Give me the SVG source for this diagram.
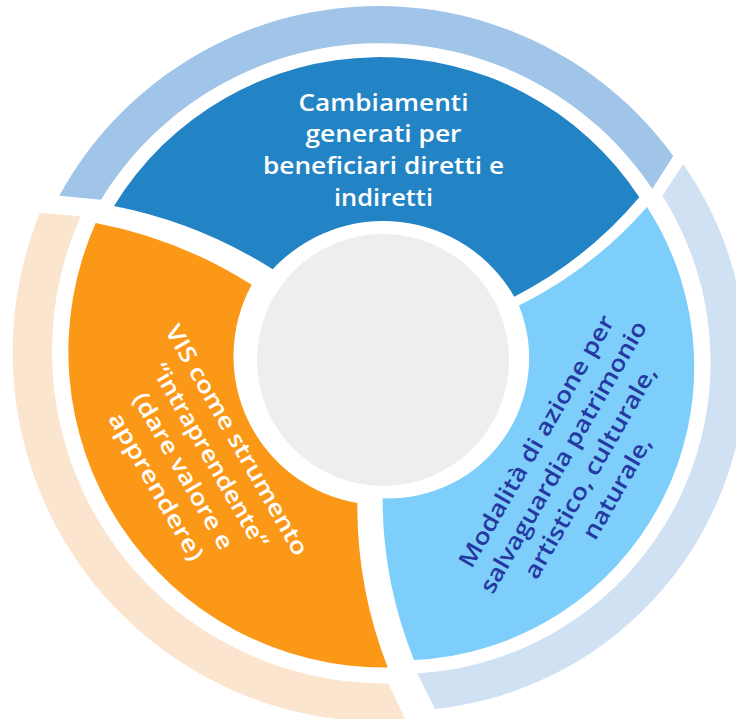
<svg xmlns="http://www.w3.org/2000/svg" width="736" height="719" viewBox="0 0 736 719">
<style>
.lbl{font-family:"Open Sans","Liberation Sans",sans-serif;font-weight:600;font-size:23px;text-anchor:middle}
.w{fill:#FFFFFF}
.d{fill:#2639A0}
</style>
<rect width="736" height="719" fill="#FFFFFF"/>
<g id="ring-top"><path fill="#A0C5E8" d="M59.3,195.7 A364,364 0 0 1 673.3,156 L652.3,189 A327,327 0 0 0 101,199.7 Z"/></g>
<g id="ring-right"><path fill="#CFE1F3" d="M683.3,164.3 A347.5,347.5 0 0 1 435,709 L417.3,673.4 A311.7,311.7 0 0 0 662.3,195.7 Z"/></g>
<g id="ring-left"><path fill="#FCE5CE" d="M80.7,216.3 L40,212.7 A369.5,369.5 0 0 0 406,721 L388.3,683.3 A332,332 0 0 1 80.7,216.3 Z"/></g>
<g id="seg-top">
<path fill="#2283C5" d="M114,206 A311,311 0 0 1 639.3,197.3 Q586.8,259.5 514.3,296.7 A151,151 0 0 0 272.7,269.3 Q199.3,222.8 114,206 Z"/>
<text class="lbl w" x="383.5" y="110.5" textLength="170" lengthAdjust="spacingAndGlyphs">Cambiamenti</text>
<text class="lbl w" x="383.5" y="142.3" textLength="156" lengthAdjust="spacingAndGlyphs">generati per</text>
<text class="lbl w" x="383.5" y="174.2" textLength="241" lengthAdjust="spacingAndGlyphs">beneficiari diretti e</text>
<text class="lbl w" x="383.5" y="206" textLength="99" lengthAdjust="spacingAndGlyphs">indiretti</text>
</g>
<g id="seg-right">
<path fill="#7ECEFC" d="M647,207 A293.6,293.6 0 0 1 414,660 Q382.6,582.1 382.6,498.3 A140.5,140.5 0 0 0 519,305.5 Q593,268.8 647,207 Z"/>
<g transform="translate(583.6,468.6) rotate(-60)">
<text class="lbl d" x="0" y="-46.5" textLength="287" lengthAdjust="spacingAndGlyphs">Modalità di azione per</text>
<text class="lbl d" x="0" y="-15.5" textLength="310" lengthAdjust="spacingAndGlyphs">salvaguardia patrimonio</text>
<text class="lbl d" x="0" y="15.5" textLength="241" lengthAdjust="spacingAndGlyphs">artistico, culturale,</text>
<text class="lbl d" x="0" y="46.5" textLength="114" lengthAdjust="spacingAndGlyphs">naturale,</text>
</g>
</g>
<g id="seg-left">
<path fill="#FC9817" d="M387.7,667.5 A316,316 0 0 1 95.7,223 Q179.7,239 251.7,284.8 A149,149 0 0 0 357.3,503 Q356.8,588.2 387.7,667.5 Z"/>
<g transform="translate(189.8,467.2) rotate(60)">
<text class="lbl w" x="0" y="-46.5" textLength="262" lengthAdjust="spacingAndGlyphs">VIS come strumento</text>
<text class="lbl w" x="0" y="-15.5" textLength="209" lengthAdjust="spacingAndGlyphs">“intraprendente“</text>
<text class="lbl w" x="0" y="15.5" textLength="177" lengthAdjust="spacingAndGlyphs">(dare valore e</text>
<text class="lbl w" x="0" y="46.5" textLength="167" lengthAdjust="spacingAndGlyphs">apprendere)</text>
</g>
</g>
<g id="center"><circle cx="383" cy="360" r="126" fill="#EEEEEE"/></g>
<g id="connectors"></g>
</svg>
